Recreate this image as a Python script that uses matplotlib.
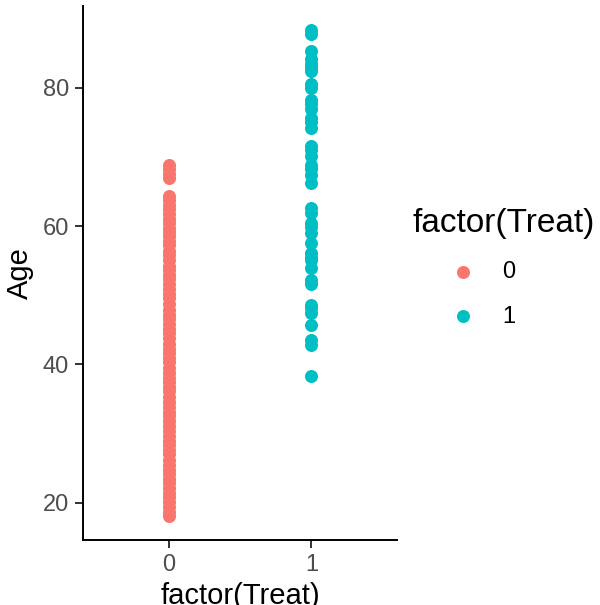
import matplotlib
matplotlib.use("Agg")
import matplotlib.pyplot as plt

plt.rcParams['font.family'] = ['Liberation Sans', 'DejaVu Sans']

# ages, per treatment group
age_treat0 = [68.8, 68.2, 67.5, 66.9, 64.3, 63.8, 63.1, 62.5, 61.8, 61.0,
              60.4, 59.7, 59.1, 58.6, 57.9, 57.2, 56.4, 55.8, 55.1, 54.3,
              53.7, 53.0, 52.4, 51.6, 50.9, 50.2, 49.6, 48.8, 47.9, 47.2,
              46.6, 45.9, 45.1, 44.5, 43.8, 43.0, 42.3, 41.7, 41.0, 40.3,
              39.5, 38.8, 38.0, 37.4, 36.7, 36.1, 35.3, 34.6, 33.9, 33.2,
              32.5, 31.8, 31.1, 30.4, 29.7, 29.0, 28.3, 27.6, 27.0, 26.2,
              25.5, 24.8, 24.1, 23.5, 22.8, 22.1, 21.4, 20.8, 20.1, 19.4,
              18.7, 18.1]
age_treat1 = [88.3, 87.8, 85.3, 84.1, 83.5, 83.0, 82.4, 80.5, 80.0, 78.3,
              77.6, 76.9, 75.7, 75.0, 74.2, 71.6, 71.0, 70.1, 68.8, 68.2,
              67.4, 66.2, 62.6, 61.9, 60.4, 59.8, 59.0, 57.5, 56.1, 55.6,
              55.1, 54.0, 52.2, 51.7, 48.6, 48.1, 47.4, 45.7, 43.5, 42.8,
              38.3]
groups = ['0', '1']
colors = ['#F8766D', '#00BFC4']

fig = plt.figure(figsize=(6, 6.05), dpi=100)
ax = fig.add_axes([0.138, 0.107, 0.524, 0.883])

for i, (g, ages) in enumerate(zip(groups, [age_treat0, age_treat1])):
    ax.scatter([i] * len(ages), ages, s=88, color=colors[i], label=g,
               linewidths=0, zorder=3)

allv = age_treat0 + age_treat1
lo, hi = min(allv), max(allv)
pad = (hi - lo) * 0.05
ax.set_ylim(lo - pad, hi + pad)
ax.set_xlim(-0.6, 1.6)
ax.set_xticks([0, 1])
ax.set_xticklabels(groups)
ax.set_yticks([20, 40, 60, 80])

for side in ['top', 'right']:
    ax.spines[side].set_visible(False)
for side in ['left', 'bottom']:
    ax.spines[side].set_linewidth(1.4)
ax.tick_params(axis='both', length=6, width=1.4, color='#333333',
               labelsize=17, labelcolor='#4D4D4D', pad=4)
ax.set_xlabel('factor(Treat)', fontsize=21, labelpad=4)
ax.set_ylabel('Age', fontsize=21, labelpad=6)

# keys sit indented under the title, as in the reference
leg = ax.legend(title='factor(Treat)', loc='upper left',
                bbox_to_anchor=(0.668, 0.676), bbox_transform=fig.transFigure,
                frameon=False, fontsize=17, title_fontsize=24,
                handletextpad=-0.5, labelspacing=0.95, borderpad=0,
                handlelength=4.3)
leg._legend_box.align = 'left'

fig.savefig('out.png', dpi=100)
